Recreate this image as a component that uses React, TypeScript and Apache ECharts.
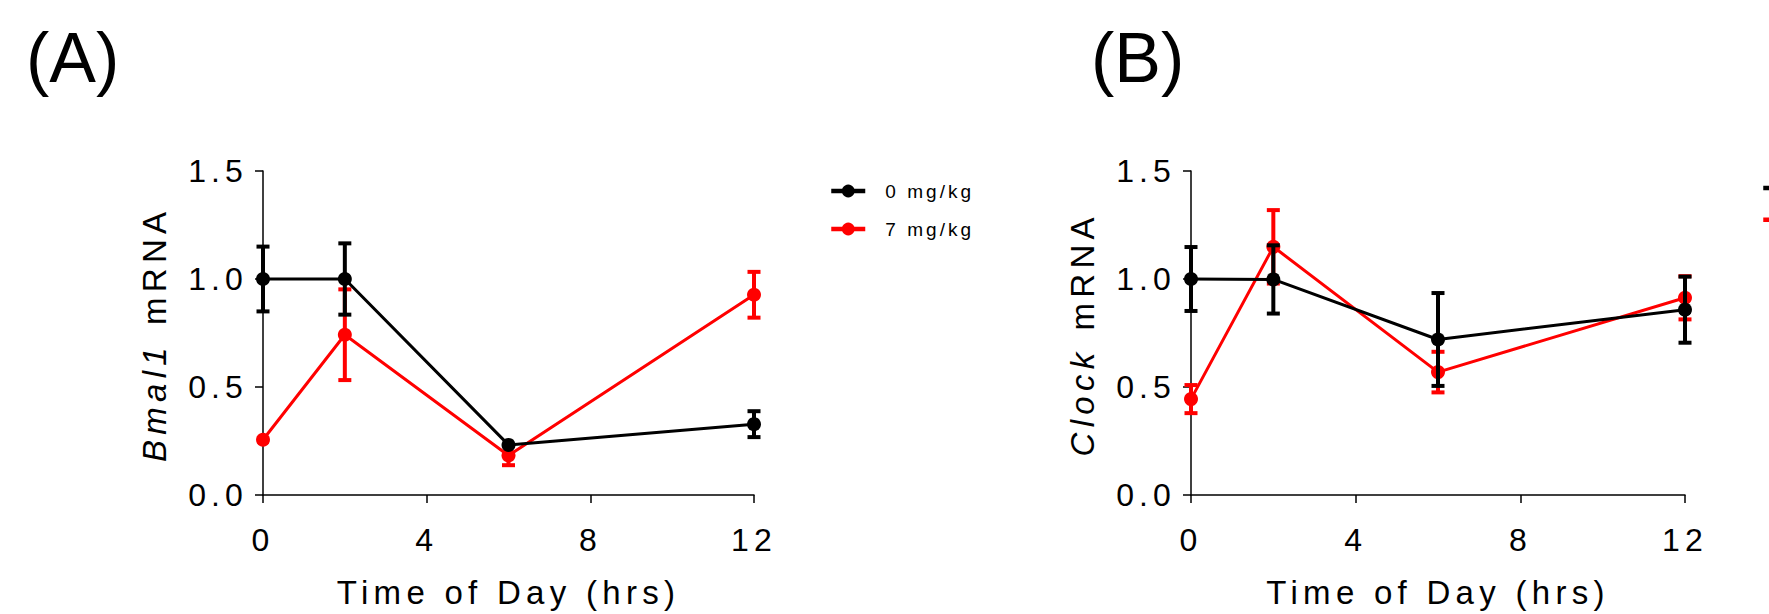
import React, { useEffect, useRef } from "react";
import * as echarts from "echarts";

const hours = [0, 2, 6, 12];
const xTicks = [0, 4, 8, 12];
const yTicks = [0, 0.5, 1.0, 1.5];
const seriesNames = ["0 mg/kg", "7 mg/kg"];

const bmal1Control = [1.0, 1.0, 0.232, 0.328];
const bmal1ControlErr = [0.15, 0.165, 0, 0.06];
const bmal1Treated = [0.256, 0.742, 0.183, 0.927];
const bmal1TreatedErr = [0, 0.21, 0.045, 0.106];

const clockControl = [1.0, 0.998, 0.72, 0.858];
const clockControlErr = [0.148, 0.158, 0.215, 0.153];
const clockTreated = [0.444, 1.149, 0.569, 0.913];
const clockTreatedErr = [0.065, 0.17, 0.094, 0.1];

const FONT = '"Liberation Sans", Arial, Helvetica, sans-serif';
const BLACK = "#000000";
const RED = "#ff0000";
const LS = 0.16; // letter spacing ratio (em)

function errSeries(xi: number, vals: number[], errs: number[], color: string, z: number) {
  return {
    type: "custom",
    xAxisIndex: xi,
    yAxisIndex: xi,
    z,
    silent: true,
    encode: { x: 0, y: 1 },
    data: hours.map((h, i) => [h, vals[i], errs[i]]),
    renderItem: (params: any, api: any) => {
      const x = api.value(0);
      const y = api.value(1);
      const e = api.value(2);
      const top = api.coord([x, y + e]);
      const bot = api.coord([x, y - e]);
      const hw = 6.5;
      const style = { stroke: color, lineWidth: 4 };
      if (!e) return { type: "group", children: [] };
      return {
        type: "group",
        children: [
          { type: "line", shape: { x1: top[0], y1: top[1], x2: bot[0], y2: bot[1] }, style },
          { type: "line", shape: { x1: top[0] - hw, y1: top[1], x2: top[0] + hw, y2: top[1] }, style },
          { type: "line", shape: { x1: bot[0] - hw, y1: bot[1], x2: bot[0] + hw, y2: bot[1] }, style },
        ],
      };
    },
  };
}

function lineSeries(xi: number, name: string, vals: number[], color: string, z: number) {
  return {
    type: "line",
    name,
    xAxisIndex: xi,
    yAxisIndex: xi,
    z,
    silent: true,
    symbol: "circle",
    symbolSize: 14,
    showSymbol: true,
    lineStyle: { color, width: 3 },
    itemStyle: { color },
    emphasis: { disabled: true },
    data: hours.map((h, i) => [h, vals[i]]),
  };
}

function xAxis(gi: number) {
  return {
    gridIndex: gi,
    type: "value",
    min: xTicks[0],
    max: xTicks[xTicks.length - 1],
    interval: 4,
    axisLine: { show: true, onZero: false, lineStyle: { color: BLACK, width: 1.5 } },
    axisTick: { show: true, length: 8, lineStyle: { color: BLACK, width: 1.5 } },
    axisLabel: { color: BLACK, fontSize: 32, fontFamily: FONT, margin: 29 },
    splitLine: { show: false },
    name: "Time of Day (hrs)",
    nameLocation: "middle",
    nameGap: 81,
    nameTextStyle: { color: BLACK, fontSize: 33, fontFamily: FONT },
  };
}

function yAxis(gi: number, gene: string) {
  const fs = 33;
  const ls = fs * LS;
  return {
    gridIndex: gi,
    type: "value",
    min: yTicks[0],
    max: yTicks[yTicks.length - 1],
    interval: 0.5,
    axisLine: { show: true, onZero: false, lineStyle: { color: BLACK, width: 1.5 } },
    axisTick: { show: true, length: 8, lineStyle: { color: BLACK, width: 1.5 } },
    axisLabel: {
      color: BLACK,
      fontSize: 32,
      fontFamily: FONT,
      margin: 15,
      formatter: (v: number) => v.toFixed(1),
    },
    splitLine: { show: false },
    name: `{i|${gene}}{s| }{n|mRNA}`,
    nameLocation: "middle",
    nameGap: 92,
    nameTextStyle: {
      color: BLACK,
      fontSize: fs,
      fontFamily: FONT,
      rich: {
        i: { fontStyle: "italic", fontSize: fs, fontFamily: FONT, color: BLACK, padding: [0, gene.length * ls, 0, 0] },
        s: { fontSize: fs, fontFamily: FONT, color: BLACK, padding: [0, ls, 0, 0] },
        n: { fontSize: fs, fontFamily: FONT, color: BLACK },
      },
    },
  };
}

function legend(left: number, showText: boolean) {
  return {
    data: seriesNames,
    orient: "vertical",
    left,
    top: 181.5,
    padding: 0,
    itemWidth: 34,
    itemHeight: 16,
    itemGap: 19,
    selectedMode: false,
    lineStyle: { width: 4.5 },
    formatter: showText ? "{name}" : () => "",
    textStyle: { color: BLACK, fontSize: 19, fontFamily: FONT, padding: [0, 0, 0, 15], lineHeight: 19 },
  };
}

export default function App() {
  const ref = useRef<HTMLDivElement>(null);

  useEffect(() => {
    const el = ref.current;
    if (!el) return;
    const chart = echarts.init(el, undefined, { renderer: "svg" });

    const option: any = {
      animation: false,
      backgroundColor: "#ffffff",
      textStyle: { fontFamily: FONT },
      grid: [
        { left: 263, top: 171, width: 491, height: 324 },
        { left: 1191, top: 171, width: 494, height: 324 },
      ],
      xAxis: [xAxis(0), xAxis(1)],
      yAxis: [yAxis(0, "Bmal1"), yAxis(1, "Clock")],
      legend: [legend(829, true), legend(1761, false)],
      graphic: [
        {
          type: "text",
          x: 26,
          y: 58,
          silent: true,
          style: { text: "(A)", fontSize: 70, fontFamily: FONT, fill: BLACK, align: "left", verticalAlign: "middle" },
        },
        {
          type: "text",
          x: 1091,
          y: 58,
          silent: true,
          style: { text: "(B)", fontSize: 70, fontFamily: FONT, fill: BLACK, align: "left", verticalAlign: "middle" },
        },
      ],
      series: [
        lineSeries(0, seriesNames[0], bmal1Control, BLACK, 4),
        lineSeries(0, seriesNames[1], bmal1Treated, RED, 2),
        lineSeries(1, seriesNames[0], clockControl, BLACK, 4),
        lineSeries(1, seriesNames[1], clockTreated, RED, 2),
        errSeries(0, bmal1Treated, bmal1TreatedErr, RED, 1),
        errSeries(0, bmal1Control, bmal1ControlErr, BLACK, 3),
        errSeries(1, clockTreated, clockTreatedErr, RED, 1),
        errSeries(1, clockControl, clockControlErr, BLACK, 3),
      ],
    };
    chart.setOption(option);

    const applySpacing = () => {
      const svg = el.querySelector("svg");
      if (!svg) return;
      svg.querySelectorAll("text").forEach((t) => {
        const fs = parseFloat(getComputedStyle(t).fontSize);
        if (fs && fs < 50) (t as SVGTextElement).style.letterSpacing = (fs * LS).toFixed(2) + "px";
      });
    };
    applySpacing();
    chart.on("finished", applySpacing);
    const raf = requestAnimationFrame(applySpacing);
    const tm = setTimeout(applySpacing, 50);

    return () => {
      cancelAnimationFrame(raf);
      clearTimeout(tm);
      chart.dispose();
    };
  }, []);

  return (
    <div
      ref={ref}
      style={{ position: "absolute", left: 0, top: 0, width: 1769, height: 614, background: "#fff" }}
    />
  );
}
